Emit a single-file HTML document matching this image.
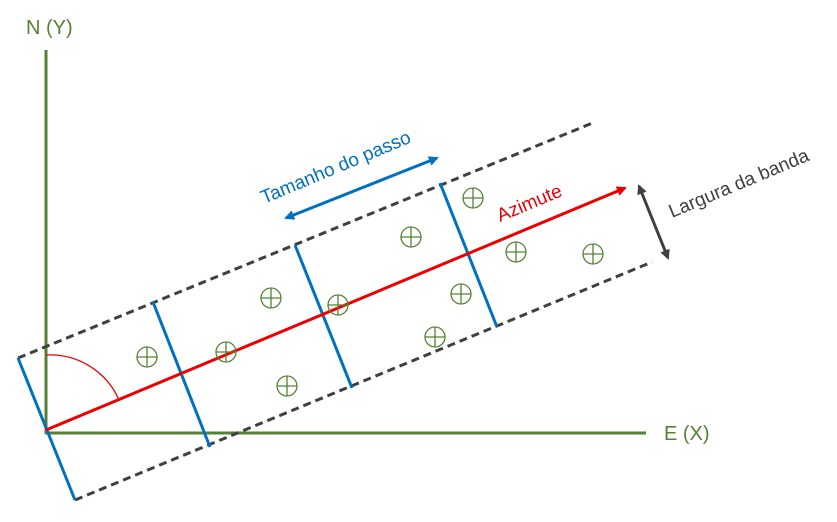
<!DOCTYPE html>
<html><head><meta charset="utf-8"><style>
html,body{margin:0;padding:0;background:#fff;width:837px;height:522px;overflow:hidden}
svg{display:block}
text{font-family:"Liberation Sans",sans-serif}
</style></head><body>
<svg id="d" width="837" height="522" viewBox="0 0 837 522" xmlns="http://www.w3.org/2000/svg">
<defs>
<marker id="ar" markerWidth="10" markerHeight="10" refX="8" refY="5" orient="auto" markerUnits="userSpaceOnUse"><path d="M0,0 L10,5 L0,10 z" fill="#e00"/></marker>
<marker id="ab" markerWidth="10" markerHeight="10" refX="8" refY="5" orient="auto-start-reverse" markerUnits="userSpaceOnUse"><path d="M0,0 L10,5 L0,10 z" fill="#0070c0"/></marker>
<marker id="ak" markerWidth="10" markerHeight="10" refX="8" refY="5" orient="auto-start-reverse" markerUnits="userSpaceOnUse"><path d="M0,0 L10,5 L0,10 z" fill="#404040"/></marker>
</defs>
<g>
<line x1="46" y1="50" x2="46" y2="434" stroke="#548235" stroke-width="3"/>
<line x1="45" y1="433" x2="646" y2="433" stroke="#548235" stroke-width="3"/>
<text x="26" y="34" font-size="20" fill="#548235">N (Y)</text>
<text x="664" y="440" font-size="20" fill="#548235">E (X)</text>
</g>
<line x1="18" y1="358" x2="595" y2="122" stroke="#404040" stroke-width="3" stroke-dasharray="8,5"/>
<line x1="75" y1="500" x2="652" y2="262" stroke="#404040" stroke-width="3" stroke-dasharray="8,5"/>
<g stroke="#0070c0" stroke-width="3">
<line x1="18" y1="358" x2="75" y2="500"/>
<line x1="153" y1="302" x2="210" y2="447"/>
<line x1="295" y1="245" x2="352" y2="388"/>
<line x1="440" y1="183" x2="497" y2="327"/>
</g>
<path d="M46,355 A75,75 0 0 1 119,400" fill="none" stroke="#e00" stroke-width="1.3"/>
<line x1="46" y1="430" x2="625" y2="188" stroke="#e00" stroke-width="3" marker-end="url(#ar)"/>
<text transform="translate(500,222) rotate(-22.7)" font-size="19" fill="#e00">Azimute</text>
<line x1="286" y1="218" x2="437" y2="158" stroke="#0070c0" stroke-width="3" marker-start="url(#ab)" marker-end="url(#ab)"/>
<text transform="translate(264,204) rotate(-22.7)" font-size="19" fill="#0070c0">Tamanho do passo</text>
<line x1="639" y1="186" x2="668" y2="258" stroke="#404040" stroke-width="3" marker-start="url(#ak)" marker-end="url(#ak)"/>
<text transform="translate(672,218) rotate(-22.7)" font-size="19" fill="#404040">Largura da banda</text>
<g id="pts"></g>
</svg>
<script>
const ptX=[147,226,287,271,338,411,461,435,473,516,593];
const ptY=[357,352,386,298,305,237,294,337,198,252,254];
const g=document.getElementById('pts');
const NS='http://www.w3.org/2000/svg';
for(let i=0;i<ptX.length;i++){
  const x=ptX[i],y=ptY[i],r=10;
  const grp=document.createElementNS(NS,'g');
  
  
  grp.setAttribute('stroke','#548235');grp.setAttribute('stroke-width','1.3');grp.setAttribute('fill','none');
  grp.innerHTML=`<circle cx="${x}" cy="${y}" r="${r}"/><line x1="${x-r}" y1="${y}" x2="${x+r}" y2="${y}"/><line x1="${x}" y1="${y-r}" x2="${x}" y2="${y+r}"/>`;
  g.appendChild(grp);
}
</script>
</body></html>
